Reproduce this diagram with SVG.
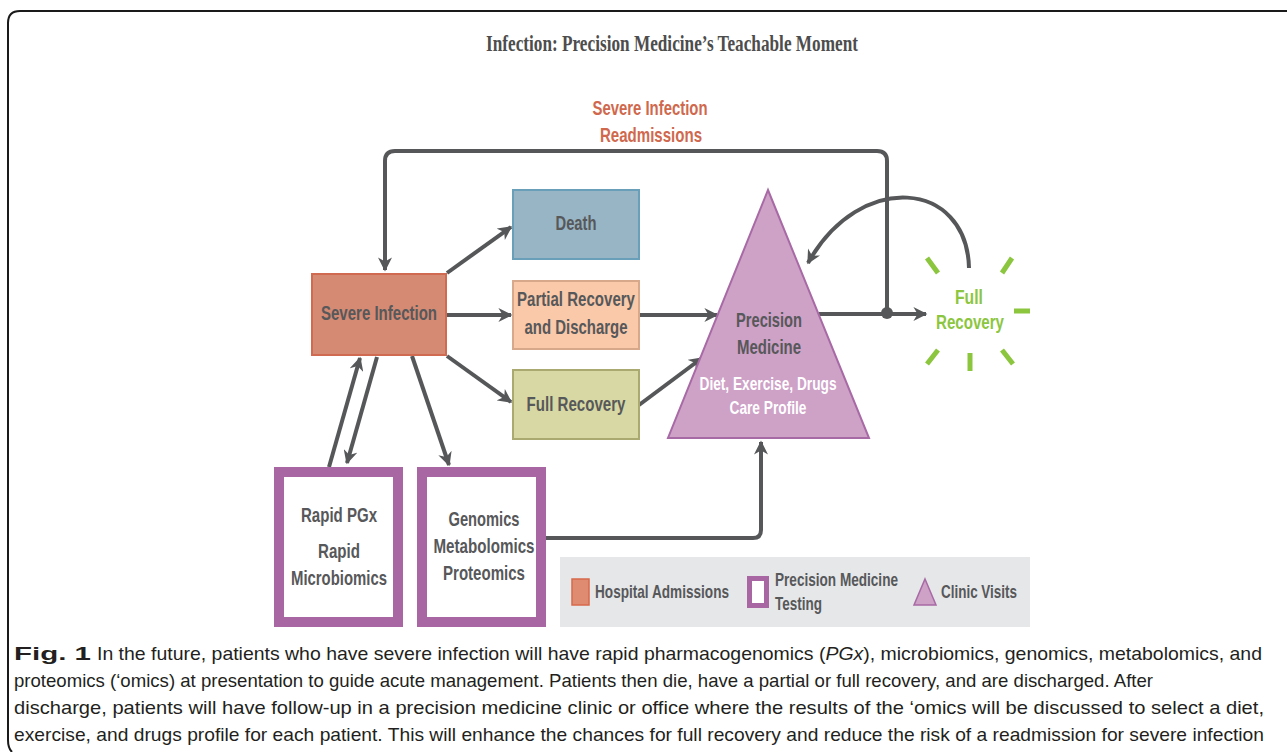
<svg xmlns="http://www.w3.org/2000/svg" width="1287" height="752" viewBox="0 0 1287 752">
<defs>
<marker id="ah" viewBox="0 0 10 10" markerWidth="15" markerHeight="14" refX="9" refY="5" orient="auto" markerUnits="userSpaceOnUse">
<path d="M0,0 L10,5 L0,10 L3,5 z" fill="#555759"/>
</marker>
<style>
.lbl{font-family:"Liberation Sans",Arial,sans-serif;font-weight:bold;font-size:21px;fill:#57585a;text-anchor:middle}
.wh{fill:#ffffff;font-size:19px}
.red{fill:#d0684d}
.grn{fill:#8cc63f}
.cap{font-family:"Liberation Sans",Arial,sans-serif;font-size:19px;fill:#231f20}
.con{fill:none;stroke:#555759;stroke-width:4}
.ray{stroke:#8cc63f;stroke-width:5;fill:none}
.tbox{fill:#ffffff;stroke:#a866a3;stroke-width:10}
.leg{font-size:19px}
</style>
</defs>
<rect width="1287" height="752" fill="#ffffff"/>
<path d="M1287 11 H20 Q8 11 8 23 V740 Q8 748 12 752" fill="none" stroke="#1a1a1a" stroke-width="2"/>
<text x="672" y="51" font-family="'Liberation Serif',serif" font-weight="bold" font-size="23" fill="#4d4d4d" text-anchor="middle" textLength="372" lengthAdjust="spacingAndGlyphs">Infection: Precision Medicine’s Teachable Moment</text>

<g id="readmissions-label">
<text class="lbl red" x="650" y="115" textLength="115" lengthAdjust="spacingAndGlyphs">Severe Infection</text>
<text class="lbl red" x="651" y="142" textLength="102" lengthAdjust="spacingAndGlyphs">Readmissions</text>
</g>

<g id="connectors">
<path class="con" d="M887 313 V161 Q887 151 877 151 H395 Q385 151 385 161 V270" marker-end="url(#ah)"/>
<circle cx="887" cy="313" r="6" fill="#555759"/>
<path class="con" d="M819 314 H926" marker-end="url(#ah)"/>
<path class="con" d="M969 268 C967 180 860 170 808 263" marker-end="url(#ah)"/>
<path class="con" d="M447 273 L511 227" marker-end="url(#ah)"/>
<path class="con" d="M446 315 H511" marker-end="url(#ah)"/>
<path class="con" d="M447 356 L511 402" marker-end="url(#ah)"/>
<path class="con" d="M639 315 H717" marker-end="url(#ah)"/>
<path class="con" d="M639 405 L702 358" marker-end="url(#ah)"/>
<path class="con" d="M329 467 L360 358" marker-end="url(#ah)"/>
<path class="con" d="M377 357 L347 463" marker-end="url(#ah)"/>
<path class="con" d="M412 356 L449 465" marker-end="url(#ah)"/>
<path class="con" d="M546 538 H753 Q761 538 761 530 V442" marker-end="url(#ah)"/>
</g>

<g id="severe-infection">
<rect x="312" y="274" width="134" height="81" fill="#d58a74" stroke="#d06a50" stroke-width="2"/>
<text class="lbl" x="379" y="320" textLength="116" lengthAdjust="spacingAndGlyphs">Severe Infection</text>
</g>
<g id="death">
<rect x="513" y="190" width="126" height="69" fill="#98b5c5" stroke="#6a9fba" stroke-width="2"/>
<text class="lbl" x="576" y="230" textLength="41" lengthAdjust="spacingAndGlyphs">Death</text>
</g>
<g id="partial-recovery">
<rect x="513" y="281" width="126" height="68" fill="#f9c9a9" stroke="#d8a88a" stroke-width="2"/>
<text class="lbl" x="576" y="306" textLength="118" lengthAdjust="spacingAndGlyphs">Partial Recovery</text>
<text class="lbl" x="576" y="334" textLength="103" lengthAdjust="spacingAndGlyphs">and Discharge</text>
</g>
<g id="full-recovery-box">
<rect x="513" y="370" width="126" height="69" fill="#d7d8a3" stroke="#a9a970" stroke-width="2"/>
<text class="lbl" x="576" y="411" textLength="99" lengthAdjust="spacingAndGlyphs">Full Recovery</text>
</g>
<g id="precision-medicine">
<polygon points="768,190 869,438 668,438" fill="#cea1c7" stroke="#a86aa5" stroke-width="2"/>
<text class="lbl" x="769" y="327" textLength="66" lengthAdjust="spacingAndGlyphs">Precision</text>
<text class="lbl" x="769" y="354" textLength="64" lengthAdjust="spacingAndGlyphs">Medicine</text>
<text class="lbl wh" x="768" y="390" textLength="137" lengthAdjust="spacingAndGlyphs">Diet, Exercise, Drugs</text>
<text class="lbl wh" x="768" y="414" textLength="77" lengthAdjust="spacingAndGlyphs">Care Profile</text>
</g>
<g id="full-recovery-burst">
<path class="ray" d="M927 258 L938 273 M1012 258 L1002 273 M1014 311 H1030 M938 350 L927 364 M970 353 V371 M1002 350 L1013 364"/>
<text class="lbl grn" x="969" y="304" textLength="28" lengthAdjust="spacingAndGlyphs">Full</text>
<text class="lbl grn" x="970" y="329" textLength="68" lengthAdjust="spacingAndGlyphs">Recovery</text>
</g>
<g id="rapid-testing">
<rect class="tbox" x="279" y="472" width="119" height="150"/>
<text class="lbl" x="339" y="522" textLength="76" lengthAdjust="spacingAndGlyphs">Rapid PGx</text>
<text class="lbl" x="339" y="558" textLength="42" lengthAdjust="spacingAndGlyphs">Rapid</text>
<text class="lbl" x="339" y="585" textLength="96" lengthAdjust="spacingAndGlyphs">Microbiomics</text>
</g>
<g id="omics-testing">
<rect class="tbox" x="422" y="472" width="119" height="150"/>
<text class="lbl" x="484" y="526" textLength="71" lengthAdjust="spacingAndGlyphs">Genomics</text>
<text class="lbl" x="484" y="553" textLength="101" lengthAdjust="spacingAndGlyphs">Metabolomics</text>
<text class="lbl" x="484" y="580" textLength="82" lengthAdjust="spacingAndGlyphs">Proteomics</text>
</g>
<g id="legend">
<rect x="560" y="557" width="470" height="70" fill="#e6e7e9"/>
<rect x="572" y="579" width="17" height="26" fill="#de8b72" stroke="#d8694c" stroke-width="1.5"/>
<text class="lbl leg" x="662" y="598" textLength="134" lengthAdjust="spacingAndGlyphs">Hospital Admissions</text>
<rect x="749.5" y="578.5" width="17" height="27" fill="#ffffff" stroke="#a866a3" stroke-width="5"/>
<text class="lbl leg" x="775" y="586" textLength="123" lengthAdjust="spacingAndGlyphs" style="text-anchor:start">Precision Medicine</text>
<text class="lbl leg" x="775" y="610" textLength="47" lengthAdjust="spacingAndGlyphs" style="text-anchor:start">Testing</text>
<polygon points="925,579 936,605 914,605" fill="#cea1c7" stroke="#a86aa5" stroke-width="1.5"/>
<text class="lbl leg" x="979" y="598" textLength="76" lengthAdjust="spacingAndGlyphs">Clinic Visits</text>
</g>

<g id="caption">
<text class="cap" x="14" y="660" font-weight="bold" textLength="77" lengthAdjust="spacingAndGlyphs">Fig. 1</text>
<text class="cap" x="97" y="660" textLength="1165" lengthAdjust="spacingAndGlyphs">In the future, patients who have severe infection will have rapid pharmacogenomics (<tspan font-style="italic">PGx</tspan>), microbiomics, genomics, metabolomics, and</text>
<text class="cap" x="14" y="687" textLength="1139" lengthAdjust="spacingAndGlyphs">proteomics (‘omics) at presentation to guide acute management. Patients then die, have a partial or full recovery, and are discharged. After</text>
<text class="cap" x="14" y="714" textLength="1250" lengthAdjust="spacingAndGlyphs">discharge, patients will have follow-up in a precision medicine clinic or office where the results of the ‘omics will be discussed to select a diet,</text>
<text class="cap" x="14" y="741" textLength="1250" lengthAdjust="spacingAndGlyphs">exercise, and drugs profile for each patient. This will enhance the chances for full recovery and reduce the risk of a readmission for severe infection</text>
</g>
</svg>
